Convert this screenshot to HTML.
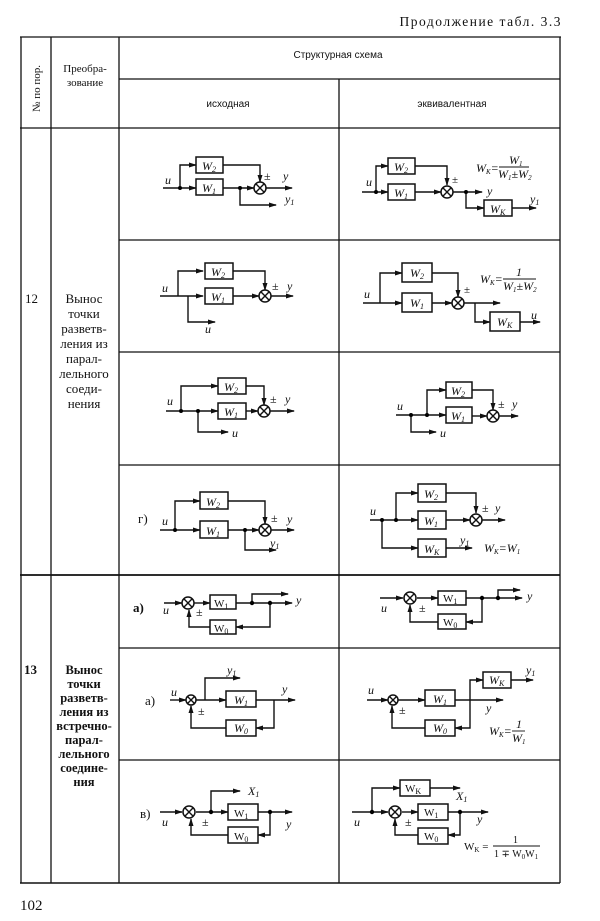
<!DOCTYPE html>
<html><head><meta charset="utf-8"><style>
html,body{margin:0;padding:0;background:#fff}
svg{display:block}
text{font-family:"Liberation Serif",serif;fill:#111}
.i{font-style:italic;font-size:12px}
.s{font-size:10px;font-family:"Liberation Sans",sans-serif}
.l{stroke:#111;stroke-width:1.4;fill:none}
.b{stroke:#111;stroke-width:1.5;fill:#fff}
</style></head><body>
<svg width="600" height="921" viewBox="0 0 600 921" xmlns="http://www.w3.org/2000/svg">
<defs><marker id="a" markerWidth="8" markerHeight="6" refX="7" refY="3" orient="auto" markerUnits="userSpaceOnUse"><path d="M0,0.5 L8,3 L0,5.5z" fill="#111"/></marker>
<g id="x"><circle r="6" class="b"/><path d="M-4.2,-4.2L4.2,4.2M-4.2,4.2L4.2,-4.2" class="l"/></g></defs>

<text x="562" y="26" text-anchor="end" font-size="13.5" letter-spacing="1.5">Продолжение табл. 3.3</text>
<!-- table lines -->
<g stroke="#111" stroke-width="1.3" fill="none">
<path d="M20,37H561"/><path d="M119,79H560"/><path d="M20,128H560"/>
<path d="M21,37V883M51,37V883M119,37V883M560,37V883M339,79V883"/>
<path d="M119,240H560M119,352H560M119,465H560"/>
<path d="M20,575H560" stroke-width="1.8"/>
<path d="M119,648H560M119,760H560"/>
<path d="M20,883H560" stroke-width="1.6"/>
</g>
<text x="0" y="0" font-size="11" transform="translate(40,112) rotate(-90)">№ по пор.</text>
<text x="85" y="72" font-size="11" text-anchor="middle">Преобра-</text>
<text x="85" y="86" font-size="11" text-anchor="middle">зование</text>
<text x="338" y="58" class="s" text-anchor="middle">Структурная схема</text>
<text x="228" y="107" class="s" text-anchor="middle">исходная</text>
<text x="452" y="107" class="s" text-anchor="middle">эквивалентная</text>
<text x="25" y="303" font-size="13">12</text>
<g font-size="13" text-anchor="middle">
<text x="84" y="303">Вынос</text><text x="84" y="318">точки</text><text x="84" y="333">разветв-</text><text x="84" y="348">ления из</text><text x="84" y="363">парал-</text><text x="84" y="378">лельного</text><text x="84" y="393">соеди-</text><text x="84" y="408">нения</text>
</g>
<text x="24" y="674" font-size="13" font-weight="bold">13</text>
<g font-size="12.5" font-weight="bold" text-anchor="middle">
<text x="84" y="674">Вынос</text><text x="84" y="688">точки</text><text x="84" y="702">разветв-</text><text x="84" y="716">ления из</text><text x="84" y="730">встречно-</text><text x="84" y="744">парал-</text><text x="84" y="758">лельного</text><text x="84" y="772">соедине-</text><text x="84" y="786">ния</text>
</g>
<text x="20" y="910" font-size="15">102</text>

<!-- 12a left -->
<g>
<path class="l" d="M163,188H196" marker-end="url(#a)"/><path class="l" d="M180,188V165H196" marker-end="url(#a)"/>
<path class="l" d="M222,165H260V182" marker-end="url(#a)"/><path class="l" d="M222,188H254" marker-end="url(#a)"/>
<path class="l" d="M240,188V205H276" marker-end="url(#a)"/><path class="l" d="M266,188H292" marker-end="url(#a)"/>
<rect class="b" x="196" y="157" width="27" height="16"/><rect class="b" x="196" y="179" width="27" height="16"/>
<circle cx="180" cy="188" r="2"/><circle cx="240" cy="188" r="2"/><use href="#x" x="260" y="188"/>
<text class="i" x="202" y="170">W<tspan font-size="8" dy="2">2</tspan></text><text class="i" x="202" y="192">W<tspan font-size="8" dy="2">1</tspan></text>
<text class="i" x="165" y="184">u</text><text x="264" y="180" font-size="12">±</text><text class="i" x="283" y="180">y</text><text class="i" x="285" y="203">y<tspan font-size="8" dy="2">1</tspan></text>
</g>
<!-- 12a right -->
<g>
<path class="l" d="M362,192H388" marker-end="url(#a)"/><path class="l" d="M376,192V166H388" marker-end="url(#a)"/>
<path class="l" d="M415,166H447V185" marker-end="url(#a)"/><path class="l" d="M415,192H441" marker-end="url(#a)"/>
<path class="l" d="M453,192H482" marker-end="url(#a)"/><path class="l" d="M466,192V208H484" marker-end="url(#a)"/><path class="l" d="M512,208H536" marker-end="url(#a)"/>
<rect class="b" x="388" y="158" width="27" height="16"/><rect class="b" x="388" y="184" width="27" height="16"/><rect class="b" x="484" y="200" width="28" height="16"/>
<circle cx="376" cy="192" r="2"/><circle cx="466" cy="192" r="2"/><use href="#x" x="447" y="192"/>
<text class="i" x="394" y="171">W<tspan font-size="8" dy="2">2</tspan></text><text class="i" x="394" y="197">W<tspan font-size="8" dy="2">1</tspan></text><text class="i" x="490" y="213">W<tspan font-size="8" dy="2">K</tspan></text>
<text class="i" x="366" y="186">u</text><text x="452" y="183" font-size="11">±</text><text class="i" x="487" y="195">y</text><text class="i" x="530" y="203">y<tspan font-size="8" dy="2">1</tspan></text>
<text class="i" x="476" y="172" font-size="11">W<tspan font-size="7" dy="2">K</tspan><tspan dy="-2">=</tspan></text>
<path d="M499,167H529" stroke="#111" stroke-width="0.9"/><text class="i" x="509" y="164" font-size="11">W<tspan font-size="7" dy="2">1</tspan></text><text class="i" x="498" y="178" font-size="11">W<tspan font-size="7" dy="2">1</tspan><tspan dy="-2">±W</tspan><tspan font-size="7" dy="2">2</tspan></text>
</g>
<!-- 12b left -->
<g>
<path class="l" d="M160,296H203" marker-end="url(#a)"/><path class="l" d="M178,296V271H203" marker-end="url(#a)"/>
<path class="l" d="M188,296V322H215" marker-end="url(#a)"/>
<path class="l" d="M233,271H265V290" marker-end="url(#a)"/><path class="l" d="M233,296H259" marker-end="url(#a)"/><path class="l" d="M271,296H293" marker-end="url(#a)"/>
<rect class="b" x="205" y="263" width="28" height="16"/><rect class="b" x="205" y="288" width="28" height="16"/>
<use href="#x" x="265" y="296"/>
<text class="i" x="211" y="276">W<tspan font-size="8" dy="2">2</tspan></text><text class="i" x="211" y="301">W<tspan font-size="8" dy="2">1</tspan></text>
<text class="i" x="162" y="292">u</text><text x="272" y="290" font-size="12">±</text><text class="i" x="287" y="290">y</text><text class="i" x="205" y="333">u</text>
</g>
<!-- 12b right -->
<g>
<path class="l" d="M363,303H402" marker-end="url(#a)"/><path class="l" d="M380,303V273H402" marker-end="url(#a)"/>
<path class="l" d="M432,273H458V297" marker-end="url(#a)"/><path class="l" d="M432,303H452" marker-end="url(#a)"/>
<path class="l" d="M464,303H500" marker-end="url(#a)"/><path class="l" d="M475,303V322H490" marker-end="url(#a)"/><path class="l" d="M520,322H540" marker-end="url(#a)"/>
<rect class="b" x="402" y="263" width="30" height="19"/><rect class="b" x="402" y="293" width="30" height="19"/><rect class="b" x="490" y="312" width="30" height="19"/>
<use href="#x" x="458" y="303"/>
<text class="i" x="410" y="277">W<tspan font-size="8" dy="2">2</tspan></text><text class="i" x="410" y="307">W<tspan font-size="8" dy="2">1</tspan></text><text class="i" x="497" y="326">W<tspan font-size="8" dy="2">K</tspan></text>
<text class="i" x="364" y="298">u</text><text x="464" y="293" font-size="11">±</text><text class="i" x="531" y="319">u</text>
<text class="i" x="480" y="283" font-size="11">W<tspan font-size="7" dy="2">K</tspan><tspan dy="-2">=</tspan></text>
<path d="M503,279H536" stroke="#111" stroke-width="0.9"/><text class="i" x="516" y="276" font-size="11">1</text><text class="i" x="503" y="290" font-size="11">W<tspan font-size="7" dy="2">1</tspan><tspan dy="-2">±W</tspan><tspan font-size="7" dy="2">2</tspan></text>
</g>
<!-- 12c left -->
<g>
<path class="l" d="M166,411H218" marker-end="url(#a)"/><path class="l" d="M181,411V386H218" marker-end="url(#a)"/>
<path class="l" d="M198,411V432H228" marker-end="url(#a)"/>
<path class="l" d="M246,386H264V405" marker-end="url(#a)"/><path class="l" d="M246,411H258" marker-end="url(#a)"/><path class="l" d="M270,411H294" marker-end="url(#a)"/>
<rect class="b" x="218" y="378" width="28" height="16"/><rect class="b" x="218" y="403" width="28" height="16"/>
<circle cx="181" cy="411" r="2"/><circle cx="198" cy="411" r="2"/><use href="#x" x="264" y="411"/>
<text class="i" x="224" y="391">W<tspan font-size="8" dy="2">2</tspan></text><text class="i" x="224" y="416">W<tspan font-size="8" dy="2">1</tspan></text>
<text class="i" x="167" y="405">u</text><text x="270" y="403" font-size="12">±</text><text class="i" x="285" y="403">y</text><text class="i" x="232" y="437">u</text>
</g>
<!-- 12c right -->
<g>
<path class="l" d="M396,415H446" marker-end="url(#a)"/><path class="l" d="M411,415V432H436" marker-end="url(#a)"/><path class="l" d="M427,415V390H446" marker-end="url(#a)"/>
<path class="l" d="M472,390H493V410" marker-end="url(#a)"/><path class="l" d="M472,416H487" marker-end="url(#a)"/><path class="l" d="M499,416H518" marker-end="url(#a)"/>
<rect class="b" x="446" y="382" width="26" height="16"/><rect class="b" x="446" y="407" width="26" height="16"/>
<circle cx="411" cy="415" r="2"/><circle cx="427" cy="415" r="2"/><use href="#x" x="493" y="416"/>
<text class="i" x="451" y="395">W<tspan font-size="8" dy="2">2</tspan></text><text class="i" x="451" y="420">W<tspan font-size="8" dy="2">1</tspan></text>
<text class="i" x="397" y="410">u</text><text x="498" y="408" font-size="12">±</text><text class="i" x="512" y="408">y</text><text class="i" x="440" y="437">u</text>
</g>
<!-- 12d left -->
<g>
<text x="138" y="523" font-size="13">г)</text>
<path class="l" d="M160,530H200" marker-end="url(#a)"/><path class="l" d="M175,530V501H200" marker-end="url(#a)"/>
<path class="l" d="M228,501H265V524" marker-end="url(#a)"/><path class="l" d="M228,530H259" marker-end="url(#a)"/>
<path class="l" d="M245,530V550H276" marker-end="url(#a)"/><path class="l" d="M271,530H294" marker-end="url(#a)"/>
<rect class="b" x="200" y="492" width="28" height="17"/><rect class="b" x="200" y="521" width="28" height="17"/>
<circle cx="175" cy="530" r="2"/><circle cx="245" cy="530" r="2"/><use href="#x" x="265" y="530"/>
<text class="i" x="206" y="506">W<tspan font-size="8" dy="2">2</tspan></text><text class="i" x="206" y="535">W<tspan font-size="8" dy="2">1</tspan></text>
<text class="i" x="162" y="525">u</text><text x="271" y="522" font-size="12">±</text><text class="i" x="287" y="523">y</text><text class="i" x="270" y="547">y<tspan font-size="8" dy="2">1</tspan></text>
</g>
<!-- 12d right -->
<g>
<path class="l" d="M370,520H418" marker-end="url(#a)"/><path class="l" d="M396,520V493H418" marker-end="url(#a)"/><path class="l" d="M382,520V548H418" marker-end="url(#a)"/>
<path class="l" d="M446,493H476V513" marker-end="url(#a)"/><path class="l" d="M446,520H470" marker-end="url(#a)"/><path class="l" d="M482,520H505" marker-end="url(#a)"/><path class="l" d="M446,548H472" marker-end="url(#a)"/>
<rect class="b" x="418" y="484" width="28" height="18"/><rect class="b" x="418" y="511" width="28" height="18"/><rect class="b" x="418" y="539" width="28" height="18"/>
<circle cx="382" cy="520" r="2"/><circle cx="396" cy="520" r="2"/><use href="#x" x="476" y="520"/>
<text class="i" x="424" y="498">W<tspan font-size="8" dy="2">2</tspan></text><text class="i" x="424" y="525">W<tspan font-size="8" dy="2">1</tspan></text><text class="i" x="424" y="553">W<tspan font-size="8" dy="2">K</tspan></text>
<text class="i" x="370" y="515">u</text><text x="482" y="512" font-size="12">±</text><text class="i" x="495" y="512">y</text><text class="i" x="460" y="544">y<tspan font-size="8" dy="2">1</tspan></text>
<text class="i" x="484" y="552" font-size="11">W<tspan font-size="7" dy="2">K</tspan><tspan dy="-2">=W</tspan><tspan font-size="7" dy="2">1</tspan></text>
</g>

<!-- 13a left -->
<g>
<text x="133" y="612" font-size="13" font-weight="bold">а)</text>
<path class="l" d="M164,603H182" marker-end="url(#a)"/><path class="l" d="M194,603H210" marker-end="url(#a)"/>
<path class="l" d="M236,603H292" marker-end="url(#a)"/><path class="l" d="M252,603V594H288" marker-end="url(#a)"/>
<path class="l" d="M270,603V627H236" marker-end="url(#a)"/><path class="l" d="M210,627H189V610" marker-end="url(#a)"/>
<rect class="b" x="210" y="595" width="26" height="14"/><rect class="b" x="210" y="620" width="26" height="14"/>
<circle cx="252" cy="603" r="2.2"/><circle cx="270" cy="603" r="2.2"/><use href="#x" x="188" y="603"/>
<text x="214" y="607" font-size="11" font-family="Liberation Sans">W<tspan font-size="8" dy="2">1</tspan></text><text x="214" y="632" font-size="11" font-family="Liberation Sans">W<tspan font-size="8" dy="2">0</tspan></text>
<text class="i" x="163" y="614">u</text><text x="196" y="616" font-size="12">±</text><text class="i" x="296" y="604">y</text>
</g>
<!-- 13a right -->
<g>
<path class="l" d="M380,598H403" marker-end="url(#a)"/><path class="l" d="M417,598H438" marker-end="url(#a)"/>
<path class="l" d="M466,598H522" marker-end="url(#a)"/><path class="l" d="M498,598V590H520" marker-end="url(#a)"/>
<path class="l" d="M482,598V622H466" marker-end="url(#a)"/><path class="l" d="M438,622H410V605" marker-end="url(#a)"/>
<rect class="b" x="438" y="591" width="28" height="14"/><rect class="b" x="438" y="614" width="28" height="15"/>
<circle cx="482" cy="598" r="2.2"/><circle cx="498" cy="598" r="2.2"/><use href="#x" x="410" y="598"/>
<text x="443" y="602" font-size="11" font-family="Liberation Sans">W<tspan font-size="8" dy="2">1</tspan></text><text x="443" y="626" font-size="11" font-family="Liberation Sans">W<tspan font-size="8" dy="2">0</tspan></text>
<text class="i" x="381" y="612">u</text><text x="419" y="612" font-size="12">±</text><text class="i" x="527" y="600">y</text>
</g>
<!-- 13b left -->
<g>
<text x="145" y="705" font-size="13">а)</text>
<path class="l" d="M170,700H186" marker-end="url(#a)"/><path class="l" d="M196,700H226" marker-end="url(#a)"/>
<path class="l" d="M205,700V678H240" marker-end="url(#a)"/>
<path class="l" d="M256,700H295" marker-end="url(#a)"/><path class="l" d="M274,700V728H256" marker-end="url(#a)"/><path class="l" d="M226,728H191V706" marker-end="url(#a)"/>
<rect class="b" x="226" y="691" width="30" height="16"/><rect class="b" x="226" y="720" width="30" height="16"/>
<circle cx="191" cy="700" r="5" class="b"/><path class="l" d="M187.5,696.5l7,7M187.5,703.5l7,-7"/>
<text class="i" x="234" y="704">W<tspan font-size="8" dy="2">1</tspan></text><text class="i" x="234" y="732">W<tspan font-size="8" dy="2">0</tspan></text>
<text class="i" x="171" y="696">u</text><text x="198" y="715" font-size="12">±</text><text class="i" x="282" y="693">y</text><text class="i" x="227" y="674">y<tspan font-size="8" dy="2">1</tspan></text>
</g>
<!-- 13b right -->
<g>
<path class="l" d="M367,700H388" marker-end="url(#a)"/><path class="l" d="M398,700H425" marker-end="url(#a)"/>
<path class="l" d="M455,700H503" marker-end="url(#a)"/><path class="l" d="M470,700V680H483" marker-end="url(#a)"/><path class="l" d="M511,680H533" marker-end="url(#a)"/>
<path class="l" d="M470,700V728H455" marker-end="url(#a)"/><path class="l" d="M425,728H392V706" marker-end="url(#a)"/>
<rect class="b" x="425" y="690" width="30" height="16"/><rect class="b" x="425" y="720" width="30" height="16"/><rect class="b" x="483" y="672" width="28" height="16"/>
<circle cx="393" cy="700" r="5" class="b"/><path class="l" d="M389.5,696.5l7,7M389.5,703.5l7,-7"/>
<text class="i" x="433" y="703">W<tspan font-size="8" dy="2">1</tspan></text><text class="i" x="433" y="732">W<tspan font-size="8" dy="2">0</tspan></text><text class="i" x="489" y="684">W<tspan font-size="8" dy="2">K</tspan></text>
<text class="i" x="368" y="694">u</text><text x="399" y="714" font-size="12">±</text><text class="i" x="486" y="712">y</text><text class="i" x="526" y="674">y<tspan font-size="8" dy="2">1</tspan></text>
<text class="i" x="489" y="735" font-size="11">W<tspan font-size="7" dy="2">K</tspan><tspan dy="-2">=</tspan></text>
<path d="M512,731H525" stroke="#111" stroke-width="0.9"/><text class="i" x="516" y="728" font-size="10">1</text><text class="i" x="512" y="742" font-size="10">W<tspan font-size="7" dy="2">1</tspan></text>
</g>
<!-- 13c left -->
<g>
<text x="140" y="818" font-size="13">в)</text>
<path class="l" d="M160,812H182" marker-end="url(#a)"/><path class="l" d="M196,812H228" marker-end="url(#a)"/>
<path class="l" d="M211,812V791H240" marker-end="url(#a)"/>
<path class="l" d="M258,812H292" marker-end="url(#a)"/><path class="l" d="M270,812V835H258" marker-end="url(#a)"/><path class="l" d="M228,835H191V819" marker-end="url(#a)"/>
<rect class="b" x="228" y="804" width="30" height="16"/><rect class="b" x="228" y="827" width="30" height="16"/>
<circle cx="211" cy="812" r="2.2"/><circle cx="270" cy="812" r="2.2"/><use href="#x" x="189" y="812"/>
<text x="234" y="817" font-size="11" font-family="Liberation Sans">W<tspan font-size="8" dy="2">1</tspan></text><text x="234" y="840" font-size="11" font-family="Liberation Sans">W<tspan font-size="8" dy="2">0</tspan></text>
<text class="i" x="162" y="826">u</text><text x="202" y="826" font-size="12">±</text><text class="i" x="286" y="828">y</text><text class="i" x="248" y="795" font-size="11" font-family="Liberation Sans">X<tspan font-size="8" dy="2">1</tspan></text>
</g>
<!-- 13c right -->
<g>
<path class="l" d="M352,812H388" marker-end="url(#a)"/><path class="l" d="M402,812H418" marker-end="url(#a)"/>
<path class="l" d="M372,812V788H400" marker-end="url(#a)"/><path class="l" d="M430,788H460" marker-end="url(#a)"/>
<path class="l" d="M448,812H488" marker-end="url(#a)"/><path class="l" d="M460,812V835H448" marker-end="url(#a)"/><path class="l" d="M418,835H395V819" marker-end="url(#a)"/>
<rect class="b" x="400" y="780" width="30" height="16"/><rect class="b" x="418" y="804" width="30" height="16"/><rect class="b" x="418" y="828" width="30" height="16"/>
<circle cx="372" cy="812" r="2.2"/><circle cx="460" cy="812" r="2.2"/><use href="#x" x="395" y="812"/>
<text x="405" y="792" font-size="11" font-family="Liberation Sans">W<tspan font-size="8" dy="2">K</tspan></text><text x="424" y="816" font-size="11" font-family="Liberation Sans">W<tspan font-size="8" dy="2">1</tspan></text><text x="424" y="840" font-size="11" font-family="Liberation Sans">W<tspan font-size="8" dy="2">0</tspan></text>
<text class="i" x="354" y="826">u</text><text x="405" y="826" font-size="12">±</text><text class="i" x="477" y="823">y</text><text class="i" x="456" y="800" font-size="11" font-family="Liberation Sans">X<tspan font-size="8" dy="2">1</tspan></text>
<text x="464" y="850" font-size="11" font-family="Liberation Sans">W<tspan font-size="7" dy="2">K</tspan><tspan dy="-2"> =</tspan></text>
<path d="M493,846H540" stroke="#111" stroke-width="0.9"/><text x="513" y="843" font-size="10" font-family="Liberation Sans">1</text><text x="494" y="857" font-size="10" font-family="Liberation Sans">1 ∓ W<tspan font-size="7" dy="2">0</tspan><tspan dy="-2">W</tspan><tspan font-size="7" dy="2">1</tspan></text>
</g>
</svg>
</body></html>
